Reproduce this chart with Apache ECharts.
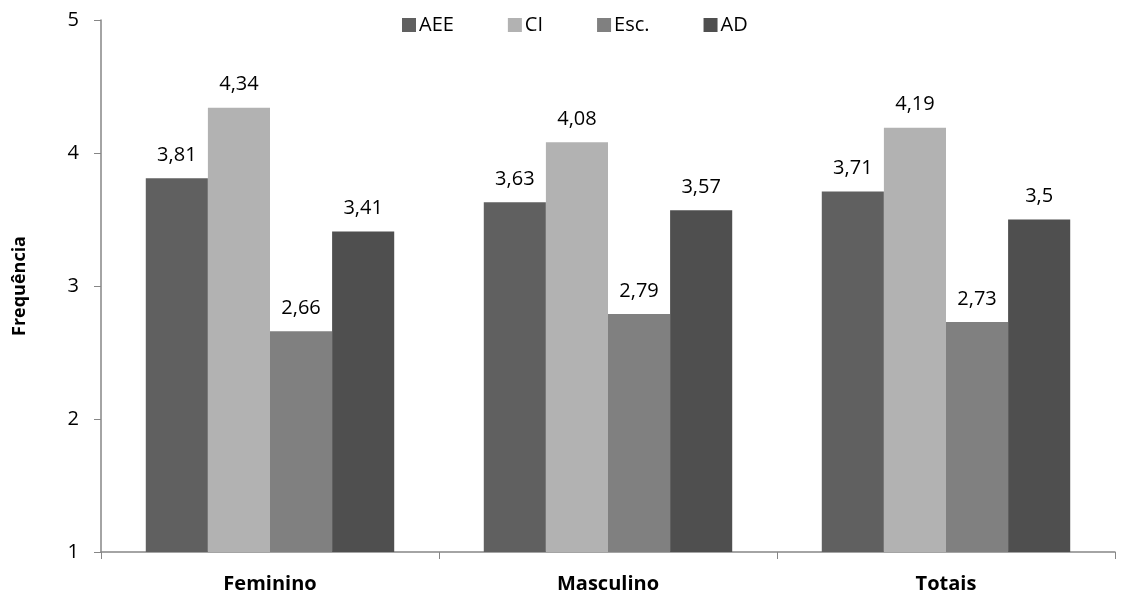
<!DOCTYPE html>
<html><head><meta charset="utf-8">
<script src="https://cdn.jsdelivr.net/npm/echarts@6/dist/echarts.min.js"></script>
<style>html,body{margin:0;padding:0;background:#fff}#c{width:1123px;height:600px}</style>
</head><body><div id="c"></div>
<script>
const categories = ['Feminino', 'Masculino', 'Totais'];
const seriesNames = ['AEE', 'CI', 'Esc.', 'AD'];
const AEE = [3.81, 3.63, 3.71];
const CI = [4.34, 4.08, 4.19];
const Esc = [2.66, 2.79, 2.73];
const AD = [3.41, 3.57, 3.5];
const seriesData = [AEE, CI, Esc, AD];
const colors = ['#606060', '#b2b2b2', '#808080', '#4f4f4f'];
const font = 'Open Sans';
const chart = echarts.init(document.getElementById('c'), null, {renderer: 'canvas'});
chart.setOption({
  animation: false,
  textStyle: {fontFamily: font},
  legend: {
    top: 10, left: 397, itemWidth: 14, itemHeight: 14, itemGap: 54,
    icon: 'rect',
    textStyle: {fontSize: 20, color: '#000', fontFamily: font, padding: [0, 0, 0, -2]},
    data: seriesNames
  },
  grid: {left: 101, right: 8, top: 20, bottom: 48},
  xAxis: {
    type: 'category', data: categories,
    axisLine: {lineStyle: {color: '#868686', width: 1.5}},
    axisTick: {show: true, length: 7, lineStyle: {color: '#868686'}},
    axisLabel: {fontSize: 20, fontWeight: 'bold', color: '#000', margin: 22, fontFamily: font}
  },
  yAxis: {
    type: 'value', min: 1, max: 5, interval: 1,
    name: 'Frequência', nameLocation: 'middle', nameGap: 72,
    nameTextStyle: {fontSize: 18, fontWeight: 'bold', color: '#000', fontFamily: font},
    splitLine: {show: false},
    axisLine: {show: true, lineStyle: {color: '#868686', width: 1.5}},
    axisTick: {show: true, length: 7, lineStyle: {color: '#868686'}},
    axisLabel: {fontSize: 20, color: '#000', margin: 22, fontFamily: font}
  },
  series: seriesNames.map((n, i) => ({
    name: n, type: 'bar', data: seriesData[i],
    barGap: '0%', barCategoryGap: '26.5%',
    itemStyle: {color: colors[i]},
    label: {show: true, position: 'top', distance: 13, fontSize: 20, color: '#000', fontFamily: font,
      formatter: p => String(p.value).replace('.', ',')}
  }))
});
</script></body></html>
